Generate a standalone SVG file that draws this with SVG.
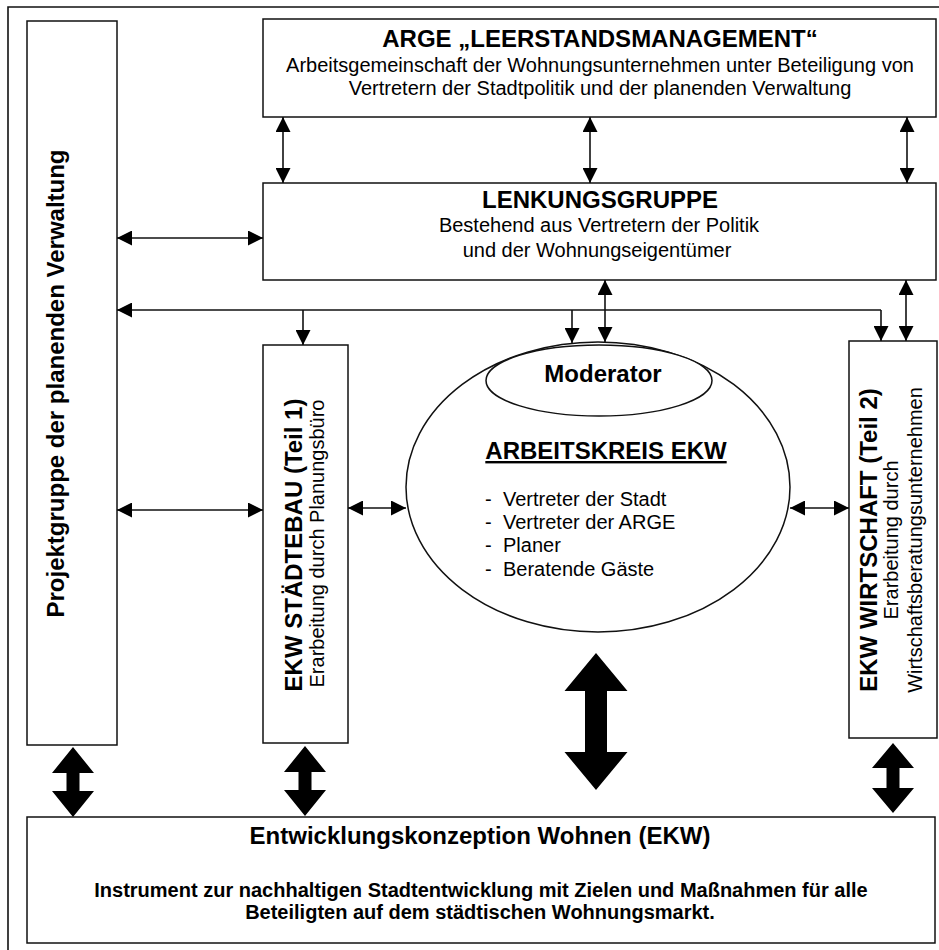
<svg xmlns="http://www.w3.org/2000/svg" width="939" height="950" viewBox="0 0 939 950">
<style>
.box{fill:#fff;stroke:#111;stroke-width:1.5}
.ln{fill:none;stroke:#111;stroke-width:1.6}
.big{fill:#000;stroke:none}
text{font-family:"Liberation Sans",Arial,sans-serif;fill:#000}
.b24{font-size:24px;font-weight:bold}
.b20{font-size:20px;font-weight:bold}
.n20{font-size:20px}
.c{text-anchor:middle}
</style>
<defs>
<marker id="ah" viewBox="0 0 15 15" refX="15" refY="7.5" markerWidth="15" markerHeight="15" markerUnits="userSpaceOnUse" orient="auto-start-reverse">
<path d="M0,0 L15,7.5 L0,15 Z" fill="#000"/>
</marker>
</defs>
<rect width="939" height="950" fill="#fff"/>
<path class="ln" d="M8,950 V7 H939"/>

<g id="projektgruppe">
<rect class="box" x="27" y="21" width="90" height="724"/>
<text class="b24 c" transform="translate(64,383.5) rotate(-90)">Projektgruppe der planenden Verwaltung</text>
</g>

<g id="arge">
<rect class="box" x="263" y="19" width="673" height="98"/>
<text class="b24 c" x="600" y="47">ARGE „LEERSTANDSMANAGEMENT“</text>
<text class="n20 c" x="600" y="72">Arbeitsgemeinschaft der Wohnungsunternehmen unter Beteiligung von</text>
<text class="n20 c" x="600" y="95">Vertretern der Stadtpolitik und der planenden Verwaltung</text>
</g>

<g id="lenkungsgruppe">
<rect class="box" x="263" y="183" width="673" height="97"/>
<text class="b24 c" x="600" y="208">LENKUNGSGRUPPE</text>
<text class="n20 c" x="599" y="232">Bestehend aus Vertretern der Politik</text>
<text class="n20 c" x="597" y="257">und der Wohnungseigentümer</text>
</g>

<g id="staedtebau">
<rect class="box" x="263" y="345" width="85" height="398"/>
<text class="b24 c" transform="translate(302,545) rotate(-90)">EKW STÄDTEBAU (Teil 1)</text>
<text class="n20 c" transform="translate(324,543.5) rotate(-90)">Erarbeitung durch Planungsbüro</text>
</g>

<g id="arbeitskreis">
<ellipse class="box" cx="598" cy="487" rx="192" ry="145"/>
<text class="b24 c" x="606" y="459" text-decoration="underline">ARBEITSKREIS EKW</text>
<text class="n20" x="485" y="506">-</text>
<text class="n20" x="503" y="506">Vertreter der Stadt</text>
<text class="n20" x="485" y="529">-</text>
<text class="n20" x="503" y="529">Vertreter der ARGE</text>
<text class="n20" x="485" y="552">-</text>
<text class="n20" x="503" y="552">Planer</text>
<text class="n20" x="485" y="576">-</text>
<text class="n20" x="503" y="576">Beratende Gäste</text>
</g>

<g id="moderator">
<ellipse class="box" cx="599" cy="380.5" rx="113" ry="35.5"/>
<text class="b24 c" x="603" y="382">Moderator</text>
</g>

<g id="wirtschaft">
<rect class="box" x="849" y="341" width="88" height="397"/>
<text class="b24 c" transform="translate(877,540) rotate(-90)">EKW WIRTSCHAFT (Teil 2)</text>
<text class="n20 c" transform="translate(898,540) rotate(-90)">Erarbeitung durch</text>
<text class="n20 c" transform="translate(922,540) rotate(-90)">Wirtschaftsberatungsunternehmen</text>
</g>

<g id="ekw">
<rect class="box" x="27" y="817" width="908" height="126"/>
<text class="b24 c" x="480" y="844">Entwicklungskonzeption Wohnen (EKW)</text>
<text class="b20 c" x="481" y="897">Instrument zur nachhaltigen Stadtentwicklung mit Zielen und Maßnahmen für alle</text>
<text class="b20 c" x="480" y="919">Beteiligten auf dem städtischen Wohnungsmarkt.</text>
</g>

<g id="connectors">
<path class="ln" d="M283,117 V183" marker-start="url(#ah)" marker-end="url(#ah)"/>
<path class="ln" d="M590,117 V183" marker-start="url(#ah)" marker-end="url(#ah)"/>
<path class="ln" d="M907,117 V183" marker-start="url(#ah)" marker-end="url(#ah)"/>
<path class="ln" d="M117,238 H263" marker-start="url(#ah)" marker-end="url(#ah)"/>
<path class="ln" d="M881,310 H117" marker-end="url(#ah)"/>
<path class="ln" d="M881,310 V341" marker-end="url(#ah)"/>
<path class="ln" d="M303,310 V345" marker-end="url(#ah)"/>
<path class="ln" d="M572,310 V343" marker-end="url(#ah)"/>
<path class="ln" d="M605,280 V342" marker-start="url(#ah)" marker-end="url(#ah)"/>
<path class="ln" d="M906,280 V341" marker-start="url(#ah)" marker-end="url(#ah)"/>
<path class="ln" d="M117,510 H263" marker-start="url(#ah)" marker-end="url(#ah)"/>
<path class="ln" d="M348,508 H406" marker-start="url(#ah)" marker-end="url(#ah)"/>
<path class="ln" d="M790,508 H849" marker-start="url(#ah)" marker-end="url(#ah)"/>
<polygon class="big" points="73,747 94,773 79.5,773 79.5,791 94,791 73,817 52,791 66.5,791 66.5,773 52,773"/>
<polygon class="big" points="305,746 326,772 311.5,772 311.5,790 326,790 305,816 284,790 298.5,790 298.5,772 284,772"/>
<polygon class="big" points="596,653 627.5,691 607,691 607,752 627.5,752 596,790 564.5,752 585,752 585,691 564.5,691"/>
<polygon class="big" points="893,743 914,768 899.5,768 899.5,788 914,788 893,813 872,788 886.5,788 886.5,768 872,768"/>
</g>
</svg>
